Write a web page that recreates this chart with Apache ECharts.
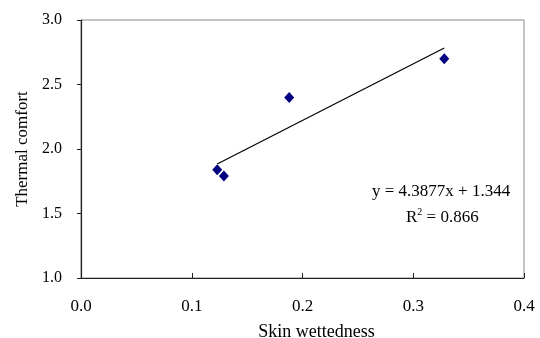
<!DOCTYPE html>
<html>
<head>
<meta charset="utf-8">
<script src="https://cdn.jsdelivr.net/npm/echarts@6/dist/echarts.min.js"></script>
<style>
  html, body { margin: 0; padding: 0; background: #fff; }
  #main { width: 540px; height: 338px; }
</style>
</head>
<body>
<div id="main"></div>
<script>
// skin wettedness vs thermal comfort
const wettedness = [0.123, 0.129, 0.188, 0.328];
const comfort = [1.84, 1.79, 2.40, 2.70];
const slope = 4.3877;
const intercept = 1.344;
const r2 = 0.866;

const points = wettedness.map((x, i) => [x, comfort[i]]);
const xMin = Math.min(...wettedness);
const xMax = Math.max(...wettedness);
const trend = [[xMin, slope * xMin + intercept], [xMax, slope * xMax + intercept]];

const font = '"Liberation Serif", "Times New Roman", serif';
const myChart = echarts.init(document.getElementById('main'));

const option = {
    animation: false,
    backgroundColor: '#fff',
    textStyle: {fontFamily: font, color: '#000'},
    grid: {
        left: 81, right: 16, top: 20, bottom: 60,
        outerBoundsMode: 'none',
        show: true, borderColor: '#8a8a8a', borderWidth: 1
    },
    xAxis: {
        type: 'value',
        min: 0, max: 0.4, interval: 0.1,
        name: 'Skin wettedness',
        nameLocation: 'middle',
        nameGap: 45,
        nameTextStyle: {fontFamily: font, fontSize: 18, color: '#000', padding: [0, 0, 0, 28]},
        axisLine: {show: true, onZero: false, lineStyle: {color: '#222', width: 1.2}},
        axisTick: {show: true, inside: true, length: 5, lineStyle: {color: '#222'}},
        axisLabel: {
            fontFamily: font, fontSize: 17, color: '#000', margin: 20,
            formatter: v => v.toFixed(1)
        },
        splitLine: {show: false}
    },
    yAxis: {
        type: 'value',
        min: 1.0, max: 3.0, interval: 0.5,
        name: 'Thermal comfort',
        nameLocation: 'middle',
        nameGap: 49,
        nameTextStyle: {fontFamily: font, fontSize: 17, color: '#000'},
        axisLine: {show: true, onZero: false, lineStyle: {color: '#222', width: 1.2}},
        axisTick: {show: true, inside: false, length: 4, lineStyle: {color: '#222'}},
        axisLabel: {
            fontFamily: font, fontSize: 16, color: '#000', margin: 19,
            formatter: v => v.toFixed(1)
        },
        splitLine: {show: false}
    },
    graphic: [
        {
            type: 'text', left: 372, top: 183,
            style: {text: 'y = ' + slope + 'x + ' + intercept, font: '17px ' + font, fill: '#000'}
        },
        {
            type: 'text', left: 406, top: 207,
            style: {
                text: '{b|R}{s|2}{b| = ' + r2 + '}',
                rich: {
                    b: {fontFamily: font, fontSize: 17, fill: '#000', verticalAlign: 'bottom'},
                    s: {fontFamily: font, fontSize: 10, fill: '#000', verticalAlign: 'top', padding: [0, 0, 9, 0]}
                }
            }
        }
    ],
    series: [
        {
            type: 'line',
            data: trend,
            symbol: 'none',
            lineStyle: {color: '#000', width: 1.2},
            z: 2
        },
        {
            type: 'scatter',
            data: points,
            symbol: 'diamond',
            symbolSize: [10, 11],
            itemStyle: {color: '#000080', opacity: 1},
            z: 3
        }
    ]
};
myChart.setOption(option);
</script>
</body>
</html>
